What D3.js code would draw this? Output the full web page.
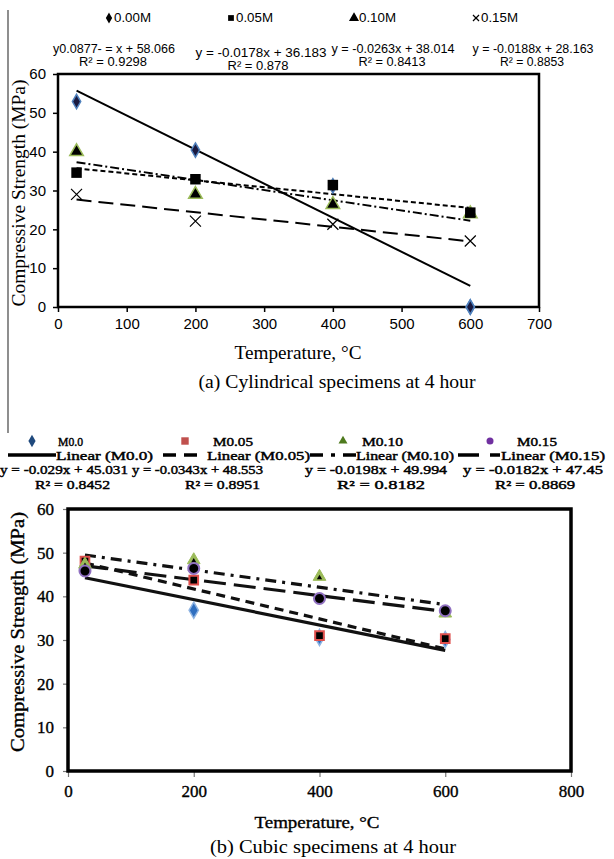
<!DOCTYPE html>
<html><head><meta charset="utf-8">
<script src="https://cdn.jsdelivr.net/npm/d3@7"></script>
<style>html,body{margin:0;padding:0;background:#fff;}svg{display:block;}</style>
</head><body>
<svg id="c" width="614" height="859"></svg>
<script>
// ---------- DATA ----------
// (a) Cylindrical specimens
const tempsA = [27, 200, 400, 600];
const seriesA = ["0.00M", "0.05M", "0.10M", "0.15M"];
const valsA000 = [52.9, 40.4, 31.2, 0.0];
const valsA005 = [34.6, 32.9, 31.4, 24.3];
const valsA010 = [40.0, 29.0, 26.4, 24.0];
const valsA015 = [29.0, 22.1, 21.3, 17.0];
const slopesA = [-0.0877, -0.0178, -0.0263, -0.0188];
const interceptsA = [58.066, 36.183, 38.014, 28.163];
const eqLabelsA = ["y0.0877- = x + 58.066", "y = -0.0178x + 36.183", "y = -0.0263x + 38.014", "y = -0.0188x + 28.163"];
const r2LabelsA = ["R² = 0.9298", "R² = 0.878", "R² = 0.8413", "R² = 0.8853"];
const xTicksA = [0, 100, 200, 300, 400, 500, 600, 700];
const yTicksA = [0, 10, 20, 30, 40, 50, 60];

// (b) Cubic specimens
const tempsB = [27, 200, 400, 600];
const seriesB = ["M0.0", "M0.05", "M0.10", "M0.15"];
const valsB00 = [47.0, 36.8, 30.6, 30.1];
const valsB05 = [48.1, 43.7, 31.0, 30.3];
const valsB10 = [47.3, 48.3, 44.5, 36.1];
const valsB15 = [45.8, 46.4, 39.5, 36.7];
const slopesB = [-0.029, -0.0343, -0.0198, -0.0182];
const interceptsB = [45.031, 48.553, 49.994, 47.45];
const linearLabelsB = ["Linear (M0.0)", "Linear (M0.05)", "Linear (M0.10)", "Linear (M0.15)"];
const eqLabelsB = ["y = -0.029x + 45.031", "y = -0.0343x + 48.553", "y = -0.0198x + 49.994", "y = -0.0182x + 47.45"];
const r2LabelsB = ["R² = 0.8452", "R² = 0.8951", "R² = 0.8182", "R² = 0.8869"];
const xTicksB = [0, 200, 400, 600, 800];
const yTicksB = [0, 10, 20, 30, 40, 50, 60];

// ---------- DRAW ----------
const svg = d3.select("#c");
const SANS = "'Liberation Sans', Arial, sans-serif";
const SERIF = "'Liberation Serif', 'Times New Roman', serif";

function txt(g, s, x, y, o = {}) {
  const t = g.append("text").attr("x", x).attr("y", y).text(s)
    .attr("font-family", o.family || SANS).attr("font-size", o.size || 13)
    .attr("text-anchor", o.anchor || "middle").attr("dominant-baseline", "central")
    .attr("fill", o.fill || "#000");
  if (o.len) t.attr("textLength", o.len).attr("lengthAdjust", "spacingAndGlyphs");
  if (o.stroke) t.attr("stroke", "#000").attr("stroke-width", o.stroke);
  if (o.rotate) t.attr("transform", `rotate(-90,${x},${y})`);
  return t;
}

// left frame artifact line
svg.append("line").attr("x1", 8).attr("x2", 8).attr("y1", 10).attr("y2", 433)
  .attr("stroke", "#444").attr("stroke-width", 1.2);

// ===== Chart A =====
const xA = d3.scaleLinear().domain([0, 700]).range([58, 539]);
const yA = d3.scaleLinear().domain([0, 60]).range([307, 74]);
const gA = svg.append("g");

const axA = gA.append("g").attr("transform", `translate(0,${yA(0)})`)
  .call(d3.axisBottom(xA).tickValues(xTicksA).tickSize(5).tickPadding(6).tickFormat(d3.format("d")));
const ayA = gA.append("g").attr("transform", `translate(${xA(0)},0)`)
  .call(d3.axisLeft(yA).tickValues(yTicksA).tickSize(5).tickPadding(7).tickFormat(d3.format("d")));
[axA, ayA].forEach(a => {
  a.select(".domain").remove();
  a.selectAll(".tick line").attr("stroke", "#000").attr("stroke-width", 1.5);
  a.selectAll(".tick text").attr("font-family", SANS).attr("font-size", 15).attr("fill", "#000");
});
gA.append("rect").attr("x", xA(0)).attr("y", yA(60)).attr("width", xA(700) - xA(0)).attr("height", yA(0) - yA(60))
  .attr("fill", "none").attr("stroke", "#000").attr("stroke-width", 2.5);

const dashA = [null, "5,3", "9,3,2,3", "15,7"];
slopesA.forEach((m, i) => {
  const x0 = tempsA[0], x1 = tempsA[tempsA.length - 1];
  gA.append("line").attr("x1", xA(x0)).attr("y1", yA(interceptsA[i] + m * x0))
    .attr("x2", xA(x1)).attr("y2", yA(interceptsA[i] + m * x1))
    .attr("stroke", "#000").attr("stroke-width", 2)
    .attr("stroke-dasharray", dashA[i]);
});

const valsA = [valsA000, valsA005, valsA010, valsA015];
function markerA(g, i, x, y, scale = 1) {
  if (i === 0) {
    g.append("path").attr("d", d3.symbol(d3.symbolDiamond, 60 * scale * scale)())
      .attr("transform", `translate(${x},${y})`).attr("fill", scale < 1 ? "#000" : "#1a1a40")
      .attr("stroke", scale < 1 ? "#000" : "#4f81bd").attr("stroke-width", 1.5);
  } else if (i === 1) {
    g.append("path").attr("d", d3.symbol(d3.symbolSquare, 110 * scale * scale)())
      .attr("transform", `translate(${x},${y})`).attr("fill", "#000");
  } else if (i === 2) {
    g.append("path").attr("d", d3.symbol(d3.symbolTriangle, 80 * scale * scale)())
      .attr("transform", `translate(${x},${y})`).attr("fill", "#000")
      .attr("stroke", scale < 1 ? "#000" : "#9bbb59").attr("stroke-width", 1.5);
  } else {
    const s = 5.5 * scale;
    g.append("path").attr("d", `M${-s},${-s}L${s},${s}M${-s},${s}L${s},${-s}`)
      .attr("transform", `translate(${x},${y})`).attr("stroke", "#000").attr("stroke-width", 1.2).attr("fill", "none");
  }
}
[0, 2, 1, 3].forEach(i => {
  valsA[i].forEach((v, j) => markerA(gA, i, xA(tempsA[j]), yA(v)));
});
markerA(gA, 0, xA(tempsA[3]), yA(valsA000[3]));

// legend A
const legXA = [109, 231, 354, 476];
seriesA.forEach((s, i) => {
  markerA(gA, i, legXA[i], 18, 0.55);
  txt(gA, s, legXA[i] + 5, 18, { anchor: "start", size: 12.5, len: 37 });
});
// equations A
const eqXA = [114, 261, 393, 533];
const eqYA = [49, 53, 49, 49];
const eqW = [122, 131, 123, 121];
const r2W = [68, 61, 67, 64];
eqLabelsA.forEach((s, i) => {
  txt(gA, s, eqXA[i], eqYA[i], { size: 12.5, len: eqW[i] });
  txt(gA, r2LabelsA[i], eqXA[i] - (i === 1 ? 3 : 1), eqYA[i] + 13, { size: 12.5, len: r2W[i] });
});
txt(gA, "Compressive Strength (MPa)", 18, 193, { family: SERIF, size: 19, rotate: true, len: 227 });
txt(gA, "Temperature, °C", 298, 353, { family: SERIF, size: 18, len: 127 });
txt(gA, "(a)  Cylindrical specimens at 4 hour", 337, 382, { family: SERIF, size: 18, len: 277 });

// ===== Chart B =====
const xB = d3.scaleLinear().domain([0, 800]).range([68, 571]);
const yB = d3.scaleLinear().domain([0, 60]).range([771, 509]);
const gB = svg.append("g");
const axB = gB.append("g").attr("transform", `translate(0,${yB(0)})`)
  .call(d3.axisBottom(xB).tickValues(xTicksB).tickSize(6).tickPadding(8).tickFormat(d3.format("d")));
const ayB = gB.append("g").attr("transform", `translate(${xB(0)},0)`)
  .call(d3.axisLeft(yB).tickValues(yTicksB).tickSize(5).tickPadding(9).tickFormat(d3.format("d")));
[axB, ayB].forEach(a => {
  a.select(".domain").remove();
  a.selectAll(".tick line").attr("stroke", "#777").attr("stroke-width", 1.2);
  a.selectAll(".tick text").attr("font-family", SERIF).attr("font-size", 17).attr("fill", "#000")
    .attr("stroke", "#000").attr("stroke-width", 0.35);
});
gB.append("rect").attr("x", xB(0)).attr("y", yB(60)).attr("width", xB(800) - xB(0)).attr("height", yB(0) - yB(60))
  .attr("fill", "none").attr("stroke", "#000").attr("stroke-width", 3.5);

const dashB = [null, "9,6", "11,6,3,6", "22,8"];
slopesB.forEach((m, i) => {
  const x0 = tempsB[0], x1 = tempsB[tempsB.length - 1];
  gB.append("line").attr("x1", xB(x0)).attr("y1", yB(interceptsB[i] + m * x0))
    .attr("x2", xB(x1)).attr("y2", yB(interceptsB[i] + m * x1))
    .attr("stroke", "#111").attr("stroke-width", 3.2)
    .attr("stroke-dasharray", dashB[i]);
});

const valsB = [valsB00, valsB05, valsB10, valsB15];
function markerB(g, i, x, y, leg = false) {
  if (i === 0) {
    g.append("path").attr("d", d3.symbol(d3.symbolDiamond, leg ? 45 : 75)())
      .attr("transform", `translate(${x},${y})`).attr("fill", leg ? "#1f497d" : "#2f6fc0")
      .attr("stroke", leg ? "none" : "#8db3e2").attr("stroke-width", 1.5);
  } else if (i === 1) {
    g.append("path").attr("d", d3.symbol(d3.symbolSquare, leg ? 55 : 75)())
      .attr("transform", `translate(${x},${y})`).attr("fill", leg ? "#c0504d" : "#000")
      .attr("stroke", leg ? "none" : "#e0504d").attr("stroke-width", 2);
  } else if (i === 2) {
    g.append("path").attr("d", d3.symbol(d3.symbolTriangle, leg ? 35 : 70)())
      .attr("transform", `translate(${x},${y})`).attr("fill", leg ? "#4e7a1e" : "#9bbb59")
      .attr("stroke", leg ? "none" : "#9bbb59").attr("stroke-width", 1);
    if (!leg) g.append("path").attr("d", d3.symbol(d3.symbolTriangle, 12)())
      .attr("transform", `translate(${x},${y + 1})`).attr("fill", "#000");
  } else {
    g.append("circle").attr("cx", x).attr("cy", y).attr("r", leg ? 3.5 : 5.5)
      .attr("fill", leg ? "#7030a0" : "#000").attr("stroke", leg ? "none" : "#9070c0").attr("stroke-width", 2);
  }
}
[0, 1, 2, 3].forEach(i => {
  valsB[i].forEach((v, j) => markerB(gB, i, xB(tempsB[j]), yB(v)));
});

// legend B
const legMX = [32, 185, 343, 490];
const legTX = [58, 213, 362, 517];
const legTW = [25, 40, 41, 40];
const SOPT = { family: SERIF, anchor: "start", size: 13, stroke: 0.45 };
seriesB.forEach((s, i) => {
  markerB(gB, i, legMX[i], 441, true);
  txt(gB, s, legTX[i], 441, Object.assign({}, SOPT, { len: legTW[i] }));
});
const sampleSegs = [[[8, 56]], [[163, 176], [184, 197]], [[310, 323], [331, 335], [343, 356]], [[458, 479], [490, 500]]];
const linTX = [56, 207, 356, 501];
const linTW = [97, 103, 98, 104];
sampleSegs.forEach((segs, i) => {
  segs.forEach(s => gB.append("line").attr("x1", s[0]).attr("x2", s[1]).attr("y1", 455).attr("y2", 455)
    .attr("stroke", "#000").attr("stroke-width", 3.5));
  txt(gB, linearLabelsB[i], linTX[i], 455, Object.assign({}, SOPT, { len: linTW[i] }));
});
const eqBX = [0, 132, 305, 463];
const eqBW = [128, 131, 142, 140];
eqLabelsB.forEach((s, i) => txt(gB, s, eqBX[i], 469, Object.assign({}, SOPT, { len: eqBW[i] })));
const r2BX = [35, 185, 337, 495];
const r2BW = [75, 75, 88, 80];
r2LabelsB.forEach((s, i) => txt(gB, s, r2BX[i], 484, Object.assign({}, SOPT, { len: r2BW[i] })));

txt(gB, "Compressive Strength (MPa)", 18, 632, { family: SERIF, size: 18, rotate: true, len: 240, stroke: 0.35 });
txt(gB, "Temperature, °C", 317, 822, { family: SERIF, size: 17, len: 125, stroke: 0.35 });
txt(gB, "(b) Cubic specimens at 4 hour", 333, 847, { family: SERIF, size: 18, len: 246 });
</script>
</body></html>
